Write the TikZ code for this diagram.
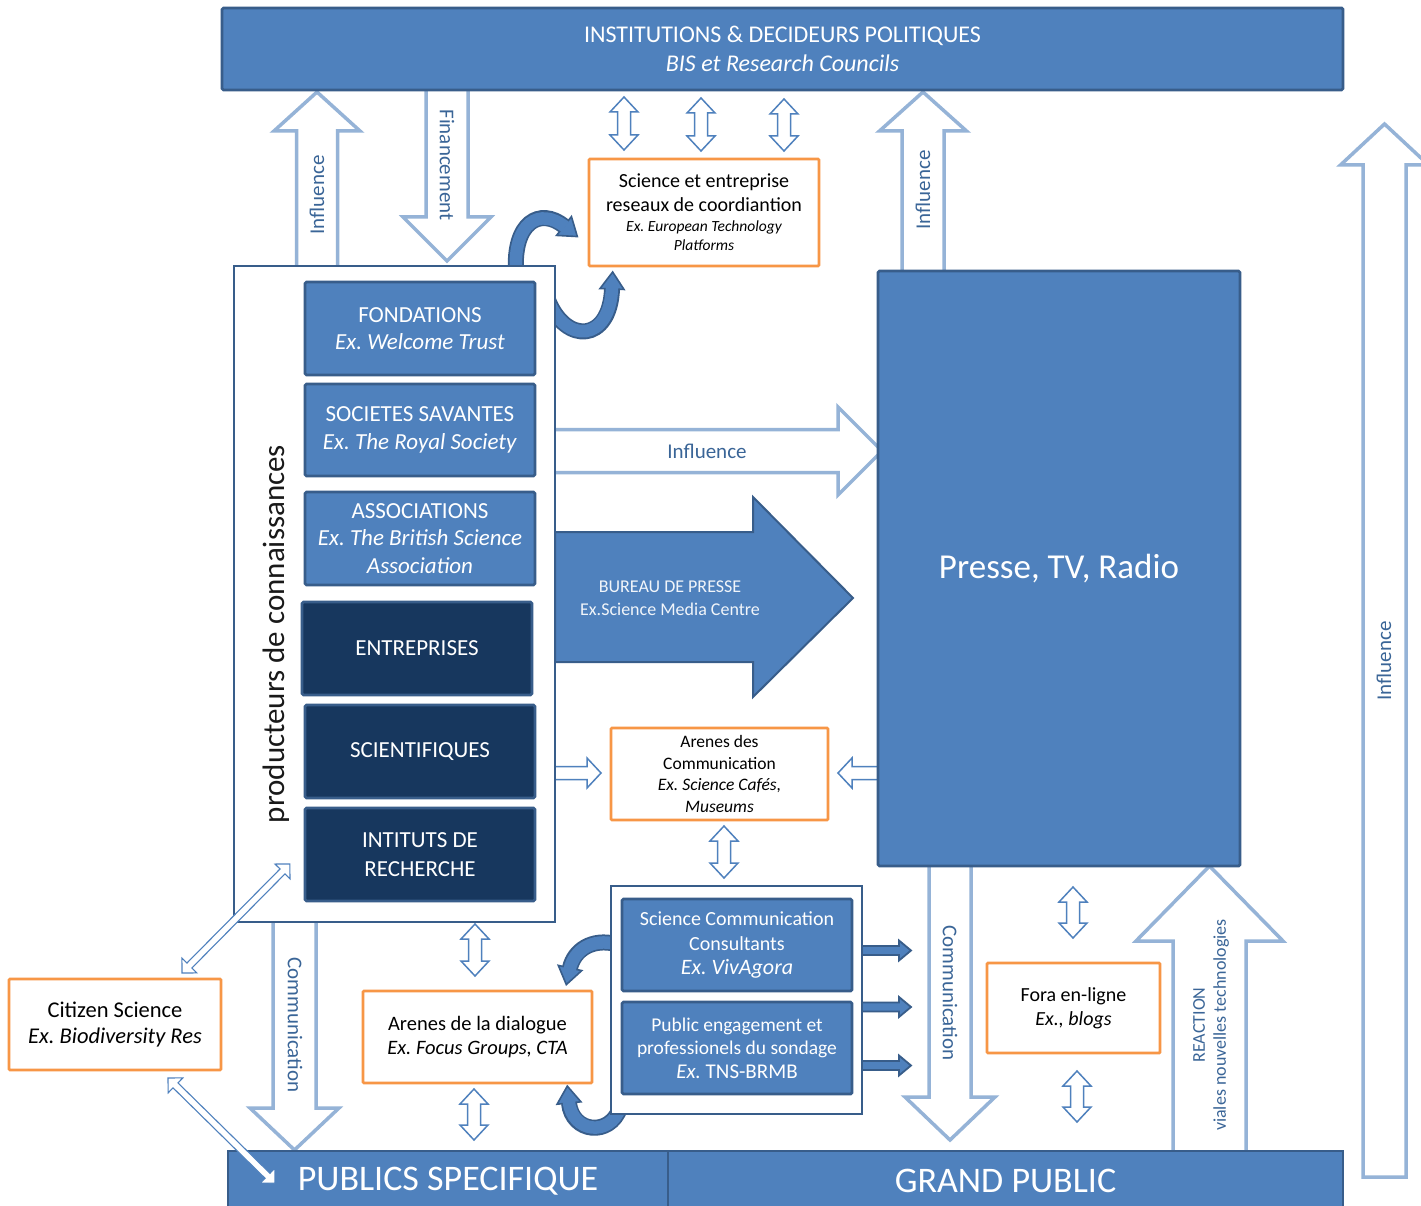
\documentclass[tikz,border=0pt]{standalone}
\usepackage{fontspec}
\setmainfont{Carlito}
\usetikzlibrary{calc}
\frenchspacing
\definecolor{bl}{HTML}{4F81BD}
\definecolor{dk}{HTML}{385D8A}
\definecolor{lt}{HTML}{95B3D7}
\definecolor{nv}{HTML}{17375E}
\definecolor{og}{HTML}{F79646}
\definecolor{tx}{HTML}{3A6597}
% font size with rigid word spaces
\newcommand\fsz[2]{\fontsize{#1}{#2}\selectfont\spaceskip=\fontdimen2\font\relax}
% vertical block arrow: x, start y, head base y, tip y, shaft half width, head half width
\newcommand\vblock[7][hollow]{%
  \filldraw[#1] ({#2-#6},#3) -- ({#2-#6},#4) -- ({#2-#7},#4) -- (#2,#5) -- ({#2+#7},#4) -- ({#2+#6},#4) -- ({#2+#6},#3);}
% horizontal block arrow: y, start x, head base x, tip x, shaft half width, head half width
\newcommand\hblock[7][hollow]{%
  \filldraw[#1] (#3,{#2-#6}) -- (#4,{#2-#6}) -- (#4,{#2-#7}) -- (#5,#2) -- (#4,{#2+#7}) -- (#4,{#2+#6}) -- (#3,{#2+#6});}
% small two-headed vertical arrow: x, top y, bottom y
\newcommand\vdouble[3]{%
  \filldraw[smallarr] (#1,#2) -- ({#1+14},{#2+15}) -- ({#1+6.5},{#2+15}) -- ({#1+6.5},{#3-15}) -- ({#1+14},{#3-15}) -- (#1,#3) -- ({#1-14},{#3-15}) -- ({#1-6.5},{#3-15}) -- ({#1-6.5},{#2+15}) -- ({#1-14},{#2+15}) -- cycle;}
% thin two-headed arrow along a direction: start point, angle, length
\newcommand\ddouble[3]{%
  \begin{scope}[shift={(#1)}, rotate=#2]
    \filldraw[thinarr] (0,0) -- (10.5,10.5) -- (10.5,3.5) -- ({#3-10.5},3.5) -- ({#3-10.5},10.5) -- (#3,0) -- ({#3-10.5},-10.5) -- ({#3-10.5},-3.5) -- (10.5,-3.5) -- (10.5,-10.5) -- cycle;
  \end{scope}}
% bent thick arrow: start, control 1, control 2, end of shaft
\newcommand\bendarrow[4]{%
  \draw[line width=16pt, draw=dk] (#1) .. controls (#2) and (#3) .. (#4);
  \filldraw[fill=bl, draw=dk, line width=1.6pt, line join=miter] ($(#4)!-17pt!(#3)$) -- ($(#4)!12pt!90:(#3)$) -- ($(#4)!12pt!-90:(#3)$) -- cycle;
  \draw[line width=12.5pt, draw=bl, shorten >=-1.5pt] (#1) .. controls (#2) and (#3) .. (#4);}
% short dark arrow leaving the consultants panel
\newcommand\darr[1]{%
  \filldraw[darkarr] (862,{#1-4.5}) -- (899,{#1-4.5}) -- (899,{#1-10}) -- (911,#1) -- (899,{#1+10}) -- (899,{#1+4.5}) -- (862,{#1+4.5});}
\begin{document}
\begin{tikzpicture}[x=1pt,y=-1pt,
  hollow/.style={draw=lt, line width=3.5pt, fill=white, line join=miter},
  smallarr/.style={draw=bl, line width=1.5pt, fill=white, line join=miter},
  thinarr/.style={draw=bl, line width=1.1pt, fill=white, line join=miter},
  darkarr/.style={draw=dk, line width=1.8pt, fill=bl, line join=miter},
  bluebox/.style={draw=dk, line width=2.8pt, fill=bl, text=white, rounded corners=1.5pt, align=center},
  navybox/.style={draw=dk, line width=2.8pt, fill=nv, text=white, rounded corners=1.5pt, align=center},
  orangebox/.style={draw=og, line width=2.8pt, fill=white, text=black, rounded corners=1pt, align=center},
  panel/.style={draw=dk, line width=2.8pt, fill=white, inner sep=0pt},
  dims/.style 2 args={minimum width=#1, minimum height=#2, text width=#1, inner sep=0pt},
  lbl/.style={text=tx, font=\fsz{21}{25}, inner sep=0pt},
]
\path[use as bounding box, fill=white] (0,0) rectangle (1421,1206);

% ---- broad hollow arrows
\vblock{317}{266}{131}{92}{20.5}{43}
\vblock{447}{90}{217}{261}{21}{44}
\vblock{923}{271}{131}{92}{21}{43.5}
\hblock{451}{555}{838}{882}{21.5}{44}
\vblock{294.5}{922}{1108}{1150}{21.5}{44.5}
\vblock{950}{866}{1097}{1140}{21}{45}
\vblock{1209.5}{1151}{941}{866}{36.5}{73.5}
\filldraw[hollow] (1363,1177) -- (1363,165) -- (1340.5,165) -- (1384.5,124) -- (1428.5,165) -- (1406,165) -- (1406,1177) -- cycle;

% ---- press office arrow
\filldraw[fill=bl, draw=dk, line width=2pt, line join=miter] (555,532) -- (753,532) -- (753,497) -- (853,598) -- (753,697) -- (753,662) -- (555,662) -- cycle;
\node[align=center, text=white!92!bl, font=\fsz{18}{23}] (bureau) at (670,598) {BUREAU DE PRESSE\\Ex.Science Media Centre};

% ---- small arrows towards the communication arenas
\hblock[smallarr]{773}{555}{587}{601}{6.5}{15}
\hblock[smallarr]{773}{878}{852}{838}{6.5}{15}
\darr{950.5}
\darr{1007}
\darr{1065.5}

% ---- bent arrows
\coordinate (a1) at (516,272); \coordinate (a2) at (513,222); \coordinate (a3) at (540,207); \coordinate (a4) at (564,226);
\coordinate (b1) at (548,300); \coordinate (b2) at (566,345); \coordinate (b3) at (610,342); \coordinate (b4) at (612,289);
\coordinate (c1) at (616,944); \coordinate (c2) at (592,938); \coordinate (c3) at (574,950); \coordinate (c4) at (570,968);
\coordinate (d1) at (620,1108); \coordinate (d2) at (610,1137); \coordinate (d3) at (572,1133); \coordinate (d4) at (569,1103);
\bendarrow{a1}{a2}{a3}{a4}
\bendarrow{b1}{b2}{b3}{b4}
\bendarrow{c1}{c2}{c3}{c4}
\bendarrow{d1}{d2}{d3}{d4}

% ---- boxes
\node[bluebox, dims={1121pt}{82pt}] (inst) at (782.5,49) {\fsz{24}{29}INSTITUTIONS \& DECIDEURS POLITIQUES\\\textit{BIS et Research Councils}\par};

\node[panel, minimum width=321pt, minimum height=656pt] (prod) at (394.5,594) {};
\node[rotate=90, anchor=base, font=\fsz{31}{36}, text=black!90] (prodlbl) at (284,634) {producteurs de connaissances};
\node[bluebox, dims={230pt}{93pt}] (fond) at (420,328.5) {\fsz{23}{27.5}FONDATIONS\\\textit{Ex. Welcome Trust}\par};
\node[bluebox, dims={230pt}{92pt}] (soc) at (420,430) {\fsz{23}{27.5}SOCIETES SAVANTES\\\textit{Ex. The Royal Society}\par};
\node[bluebox, dims={230pt}{93pt}] (assoc) at (420,538.5) {\fsz{23}{27.5}ASSOCIATIONS\\\textit{Ex. The British Science}\\\textit{Association}\par};
\node[navybox, dims={230pt}{93pt}] (entr) at (417,648.5) {\fsz{23}{27.5}ENTREPRISES\par};
\node[navybox, dims={230pt}{93pt}] (sci) at (420,751.5) {\fsz{23}{27.5}SCIENTIFIQUES\par};
\node[navybox, dims={230pt}{93pt}] (irech) at (420,854.5) {\fsz{23}{29}INTITUTS DE\\RECHERCHE\par};

\node[bluebox, dims={362pt}{595pt}] (presse) at (1059,568.5) {\fsz{35}{42}Presse, TV, Radio\par};

\node[orangebox, dims={230pt}{107pt}] (sent) at (704,212.5) {\fsz{20}{24}Science et entreprise\\reseaux de coordiantion\par\fsz{15.5}{19.5}\itshape Ex. European Technology\\Platforms\par};
\node[orangebox, dims={217pt}{92pt}] (arcom) at (719.5,774) {\fsz{17.5}{21.7}Arenes des\\Communication\\\textit{Ex. Science Cafés,}\\\textit{Museums}\par};
\node[orangebox, dims={229pt}{92pt}] (ardia) at (477.5,1037) {\fsz{20.5}{24}Arenes de la dialogue\\\textit{Ex. Focus Groups, CTA}\par};
\node[orangebox, dims={212pt}{91pt}] (citizen) at (115,1024.5) {\fsz{22.5}{26}Citizen Science\\\textit{Ex. Biodiversity Res}\par};
\node[orangebox, dims={173pt}{90pt}] (fora) at (1073.5,1008) {\fsz{20}{24}Fora en-ligne\\\textit{Ex., blogs}\par};

\node[panel, minimum width=251pt, minimum height=228pt] (cons) at (736.5,1000) {};
\node[bluebox, dims={230pt}{92pt}] (scc) at (737,945) {\fsz{20}{24.5}Science Communication\\Consultants\\\fsz{22}{24.5}\textit{Ex. VivAgora}\par};
\node[bluebox, dims={230pt}{92pt}] (peng) at (737,1048) {\fsz{19.5}{23.5}Public engagement et\\professionels du sondage\\\fsz{21}{23.5}\textit{Ex.} TNS-BRMB\par};

\node[bluebox, rounded corners=0pt, minimum width=440pt, minimum height=60pt, inner sep=0pt, font=\fsz{36}{42}] (pubs) at (448,1181) {PUBLICS SPECIFIQUE};
\node[bluebox, rounded corners=0pt, minimum width=675pt, minimum height=60pt, inner sep=0pt, font=\fsz{36}{42}] (gp) at (1005.5,1181) {GRAND PUBLIC};

% ---- labels inside the broad arrows
\node[lbl, rotate=90] (l1) at (317,195) {Influence};
\node[lbl, rotate=-90] (l2) at (447,165) {Financement};
\node[lbl, rotate=90] (l3) at (923,190) {Influence};
\node[lbl] (l4) at (707,451) {Influence};
\node[lbl, rotate=-90] (l5) at (295,1025) {Communication};
\node[lbl, rotate=-90] (l6) at (950,993) {Communication};
\node[lbl, rotate=90, align=center, font=\fsz{18}{21}] (l7) at (1211,1025) {REACTION\\viales nouvelles technologies};
\node[lbl, rotate=90] (l8) at (1384,661) {Influence};

% ---- small two-headed arrows
\vdouble{624}{97}{150}
\vdouble{701}{98}{151}
\vdouble{784}{99}{151}
\vdouble{724}{826}{878}
\vdouble{475}{924}{976}
\vdouble{474}{1089}{1140}
\vdouble{1073}{887}{938}
\vdouble{1077}{1071}{1122}

% ---- citizen science links
\coordinate (cs1) at (182,973);
\coordinate (cs2) at (168,1078);
\ddouble{cs1}{45.3}{153.4}
\ddouble{cs2}{-44.5}{150}
\end{tikzpicture}
\end{document}
